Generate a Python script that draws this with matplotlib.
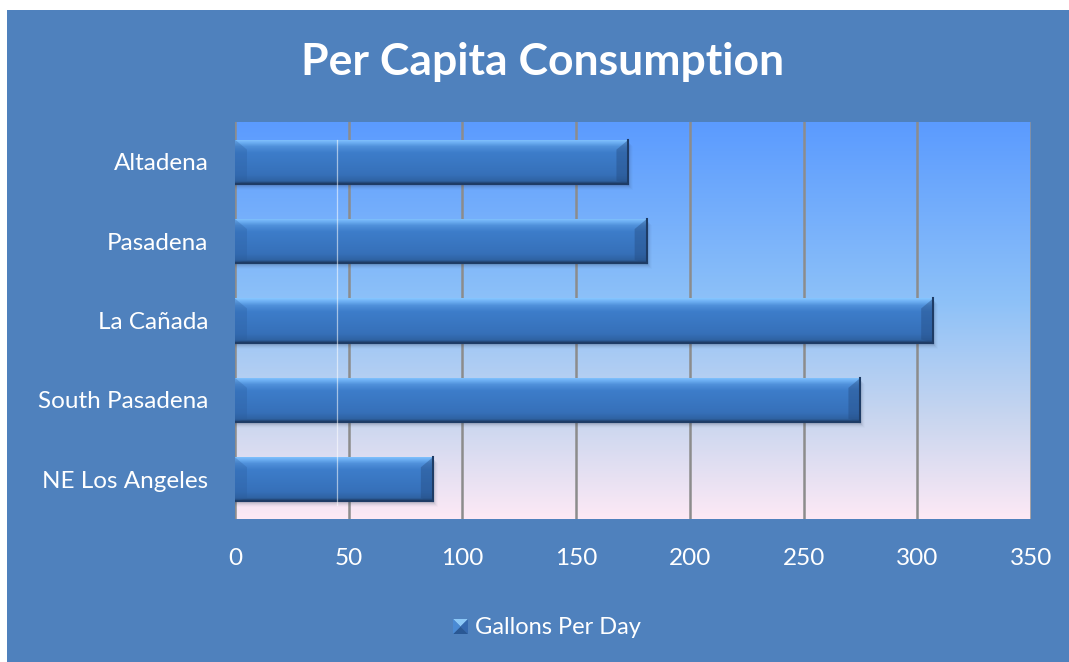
import numpy as np
import matplotlib.pyplot as plt
from matplotlib.colors import LinearSegmentedColormap
from matplotlib.patches import Rectangle, Polygon

plt.rcParams['font.family'] = ['Lato', 'DejaVu Sans']

cities = ["Altadena", "Pasadena", "La Cañada", "South Pasadena", "NE Los Angeles"]
gallons = [173, 181, 307, 275, 87]
ticks = [0, 50, 100, 150, 200, 250, 300, 350]

W, H = 1069, 662
fig = plt.figure(figsize=(W / 100, H / 100), dpi=100, facecolor="white")
# blue panel with a thin white margin at top and left
fig.patches.append(Rectangle((7 / W, 0), 1, 1 - 10 / H, transform=fig.transFigure,
                             facecolor="#4F81BD", edgecolor="none", zorder=-10))

ax = fig.add_axes([235 / W, 1 - 519 / H, (1031 - 235) / W, (519 - 122) / H])
ax.set_facecolor("none")

# plot area gradient, blue at top fading to pink
bg = LinearSegmentedColormap.from_list(
    "bg", [(0, "#5B9BFF"), (0.45, "#8DC1F8"), (0.75, "#C9D6EF"), (1, "#FDE9F5")])
ax.imshow(np.linspace(0, 1, 256).reshape(-1, 1), cmap=bg, aspect="auto",
          extent=(0, 1, 0, 1), transform=ax.transAxes, zorder=0)

y = np.arange(len(cities))
h = 0.555

for t in ticks:
    ax.axvline(t, color="#8C8C8C", lw=1.8, zorder=1)

bar_cmap = LinearSegmentedColormap.from_list(
    "bar", [(0, "#86C6FF"), (0.06, "#70B2F5"), (0.16, "#4F90DA"), (0.3, "#3D7DCA"),
            (0.8, "#3670B9"), (0.94, "#2F62A2"), (1, "#1E3C66")])
px_x = 350 / (1031 - 235)
px_y = len(cities) / (519 - 122)
bev_x = 12 * px_x
bev_y = 10 * px_y

for yi, v in zip(y, gallons):
    top, bot = yi - h / 2, yi + h / 2
    # soft shadow under the bar
    for k, a in enumerate([0.10, 0.08, 0.06, 0.04, 0.02]):
        ax.add_patch(Rectangle((0, top + (k + 2) * px_y), v + (k + 1) * px_x, h,
                               facecolor="#33415A", alpha=a, edgecolor="none", zorder=2))
    bar = ax.barh(yi, v, height=h, color="#3D7DCA", edgecolor="none", zorder=3)[0]
    im = ax.imshow(np.linspace(0, 1, 64).reshape(-1, 1), cmap=bar_cmap, aspect="auto",
                   extent=(0, v, bot, top), zorder=3.1)
    im.set_clip_path(bar)
    # bevelled ends
    ax.add_patch(Polygon([(v, top), (v, bot), (v - bev_x, bot - 3 * px_y), (v - bev_x, top + bev_y)],
                         closed=True, facecolor="#23497E", alpha=0.4, edgecolor="none", zorder=3.2))
    ax.add_patch(Polygon([(0, top), (0, bot), (bev_x, bot - 3 * px_y), (bev_x, top + bev_y)],
                         closed=True, facecolor="#2B5C9C", alpha=0.3, edgecolor="none", zorder=3.2))
    ax.plot([v, v], [top, bot], color="#1E3C66", lw=1.5, zorder=3.3)
    ax.plot([0, v], [bot, bot], color="#1E3C66", lw=1.5, zorder=3.3)

# faint highlight streak across the bars
ax.plot([45, 45], [y[0] - h / 2, y[-1] + h / 2 + 0.05], color="white",
        lw=0.9, alpha=0.55, zorder=3.4)

ax.set_xlim(0, 350)
ax.set_ylim(len(cities) - 0.5, -0.5)
for s in ax.spines.values():
    s.set_visible(False)
ax.set_xticks(ticks)
ax.set_xticklabels([str(t) for t in ticks])
ax.set_yticks(y)
ax.set_yticklabels(cities)
ax.tick_params(axis="both", length=0, colors="white", labelsize=17.5)
ax.tick_params(axis="x", pad=21)
ax.tick_params(axis="y", pad=19)

fig.text(543 / W, 1 - 62 / H, "Per Capita Consumption", color="white",
         fontsize=32, fontweight="bold", ha="center", va="center")

# legend key: small bevelled square
x0, y0, s = 453, 634, 15
def key_pt(px, py):
    return (px / W, 1 - py / H)
corners = [key_pt(x0, y0 - s), key_pt(x0 + s, y0 - s), key_pt(x0 + s, y0), key_pt(x0, y0)]
mid = key_pt(x0 + s / 2, y0 - s / 2)
for (a, b), c in zip([(0, 1), (1, 2), (2, 3), (3, 0)],
                     ["#8CC8F7", "#3569AF", "#2A5894", "#4A8AD4"]):
    fig.patches.append(Polygon([corners[a], corners[b], mid], closed=True,
                               transform=fig.transFigure, facecolor=c, edgecolor="none"))
fig.text(475 / W, 1 - 628 / H, "Gallons Per Day", color="white", fontsize=17,
         ha="left", va="center")

fig.savefig("out.png", dpi=100, facecolor=fig.get_facecolor())
